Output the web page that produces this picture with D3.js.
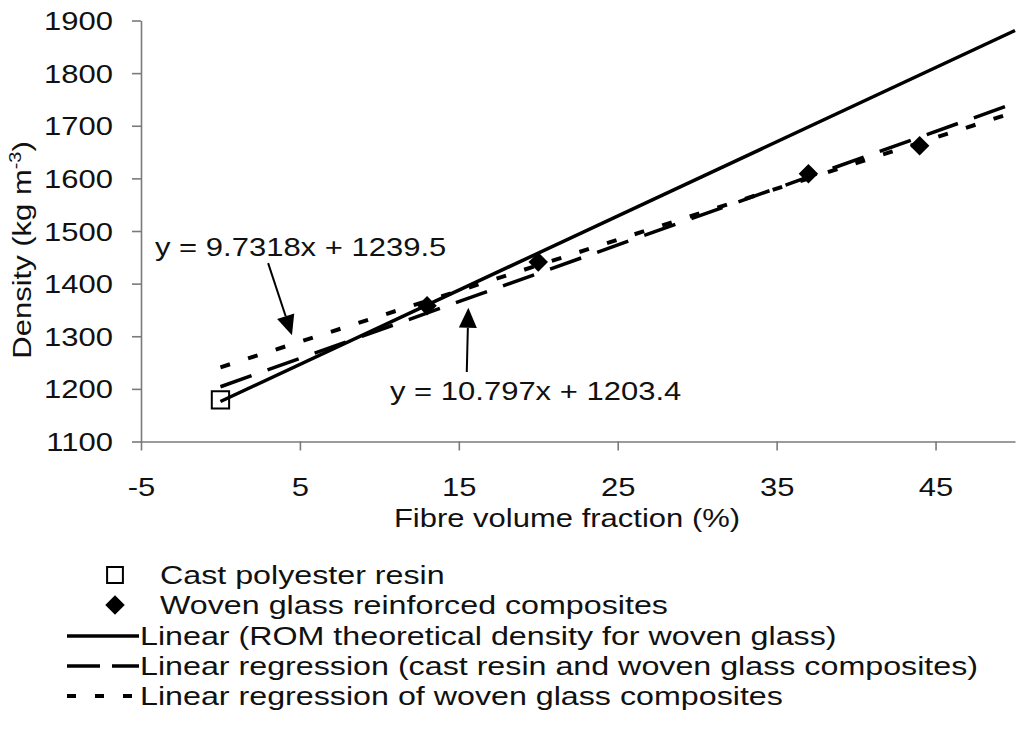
<!DOCTYPE html>
<html>
<head>
<meta charset="utf-8">
<script src="https://cdn.jsdelivr.net/npm/d3@7"></script>
<style>
  body { margin: 0; background: #fff; }
  svg text { font-family: "Liberation Sans", Arial, sans-serif; fill: #111; }
</style>
</head>
<body>
<svg id="chart" width="1017" height="742"></svg>
<script>
// ---- data ----
const xTicks = [ -5, 5, 15, 25, 35, 45 ];
const yTicks = [ 1100, 1200, 1300, 1400, 1500, 1600, 1700, 1800, 1900 ];

const resinX = [ 0 ];
const resinY = [ 1179 ];
const wovenX = [ 13, 20, 37, 44 ];
const wovenY = [ 1358, 1441, 1609, 1662 ];

// trend lines, end points
const romX = [ 0, 50 ];
const romY = [ 1176, 1881 ];
const regAllX = [ 0, 50 ];
const regAllY = [ 1204, 1743 ];
const regWovenX = [ 0, 50 ];
const regWovenY = [ 1241, 1726 ];

const eqLabels = [ "y = 9.7318x + 1239.5", "y = 10.797x + 1203.4" ];

const legendNames = [
  "Cast polyester resin",
  "Woven glass reinforced composites",
  "Linear (ROM theoretical density for woven glass)",
  "Linear regression (cast resin and woven glass composites)",
  "Linear regression of woven glass composites"
];

// ================================
const SX = 1.24; // text in the picture is a bit wide
const FS = 25;
const svg = d3.select( "#chart" );

const x = d3.scaleLinear().domain( [ -5, 50 ] ).range( [ 141, 1015 ] );
const y = d3.scaleLinear().domain( [ 1100, 1900 ] ).range( [ 441.5, 20.5 ] );

function putText( g, str, px, py, anchor, fs ) {
  return g.append( "text" )
    .attr( "transform", `translate(${px},${py}) scale(${SX},1)` )
    .attr( "text-anchor", anchor || "start" )
    .style( "font-size", ( fs || FS ) + "px" )
    .text( str );
}

const plain = d => String( d ); // keeps "-5" and no thousands comma

// axes
const yAxis = svg.append( "g" )
  .attr( "transform", `translate(${x( -5 )},0)` )
  .call( d3.axisLeft( y ).tickValues( yTicks ).tickFormat( plain ).tickSize( 9 ).tickSizeOuter( 0 ) );
yAxis.selectAll( "text" )
  .attr( "transform", `scale(${SX},1)` )
  .attr( "x", -28 / SX )
  .attr( "dy", "0.36em" )
  .style( "font-size", FS + "px" )
  .style( "font-family", "Liberation Sans, Arial, sans-serif" );

const xAxis = svg.append( "g" )
  .attr( "transform", `translate(0,${y( 1100 )})` )
  .call( d3.axisBottom( x ).tickValues( xTicks ).tickFormat( plain ).tickSize( 9 ).tickSizeOuter( 0 ) );
xAxis.selectAll( "text" )
  .attr( "transform", `scale(${SX},1)` )
  .attr( "y", 55 )
  .attr( "dy", 0 )
  .style( "font-size", FS + "px" )
  .style( "font-family", "Liberation Sans, Arial, sans-serif" );

[ yAxis, xAxis ].forEach( a => {
  a.selectAll( "path, line" ).attr( "stroke", "#7a7a7a" ).attr( "stroke-width", 1.6 );
  a.selectAll( "text" ).attr( "fill", "#111" );
} );

// axis titles
putText( svg, "Fibre volume fraction (%)", 567, 527, "middle" );

const yt = svg.append( "text" )
  .attr( "transform", `translate(31,250) rotate(-90) scale(${SX},1)` )
  .attr( "text-anchor", "middle" )
  .style( "font-size", FS + "px" );
yt.append( "tspan" ).text( "Density (kg m" );
yt.append( "tspan" ).attr( "dy", -10 ).style( "font-size", "16px" ).text( "-3" );
yt.append( "tspan" ).attr( "dy", 10 ).text( ")" );

// trend lines
const line = d3.line().x( d => x( d[ 0 ] ) ).y( d => y( d[ 1 ] ) );
const trends = [
  { xs: regWovenX, ys: regWovenY, dash: "10,19", w: 4 },
  { xs: regAllX, ys: regAllY, dash: "33,17", w: 3.5 },
  { xs: romX, ys: romY, dash: null, w: 3.5 }
];
trends.forEach( t => {
  svg.append( "path" )
    .datum( d3.zip( t.xs, t.ys ) )
    .attr( "d", line )
    .attr( "fill", "none" )
    .attr( "stroke", "#000" )
    .attr( "stroke-width", t.w )
    .attr( "stroke-dasharray", t.dash );
} );

// markers
const squareSym = d3.symbol().type( d3.symbolSquare ).size( 300 );
const diamondSym = d3.symbol().type( d3.symbolSquare ).size( 190 );

svg.selectAll( ".resin" )
  .data( d3.zip( resinX, resinY ) )
  .enter().append( "path" )
  .attr( "class", "resin" )
  .attr( "d", squareSym )
  .attr( "transform", d => `translate(${x( d[ 0 ] )},${y( d[ 1 ] )})` )
  .attr( "fill", "none" )
  .attr( "stroke", "#000" )
  .attr( "stroke-width", 2 );

svg.selectAll( ".woven" )
  .data( d3.zip( wovenX, wovenY ) )
  .enter().append( "path" )
  .attr( "class", "woven" )
  .attr( "d", diamondSym )
  .attr( "transform", d => `translate(${x( d[ 0 ] )},${y( d[ 1 ] )}) rotate(45)` )
  .attr( "fill", "#000" );

// equation labels with arrows  (from / to in data units)
const arrows = [
  { from: [ 3.0, 1439 ], to: [ 4.5, 1302 ] },
  { from: [ 15.5, 1232 ], to: [ 15.6, 1354 ] }
];
arrows.forEach( a => {
  const x0 = x( a.from[ 0 ] ), y0 = y( a.from[ 1 ] );
  const x1 = x( a.to[ 0 ] ), y1 = y( a.to[ 1 ] );
  const len = Math.hypot( x1 - x0, y1 - y0 );
  const ux = ( x1 - x0 ) / len, uy = ( y1 - y0 ) / len;
  const bx = x1 - ux * 20, by = y1 - uy * 20;
  svg.append( "line" )
    .attr( "x1", x0 ).attr( "y1", y0 ).attr( "x2", bx ).attr( "y2", by )
    .attr( "stroke", "#000" ).attr( "stroke-width", 2 );
  svg.append( "polygon" )
    .attr( "points", [
      [ x1, y1 ],
      [ bx - uy * 9, by + ux * 9 ],
      [ bx + uy * 9, by - ux * 9 ]
    ].map( p => p.join( "," ) ).join( " " ) )
    .attr( "fill", "#000" );
} );
putText( svg, eqLabels[ 0 ], 155, 256 );
putText( svg, eqLabels[ 1 ], 390, 400 );

// legend
const leg = svg.append( "g" );
const rowY = [ 575, 605, 636, 666, 696 ];
leg.append( "path" ).attr( "d", d3.symbol().type( d3.symbolSquare ).size( 250 ) )
  .attr( "transform", `translate(115,${rowY[ 0 ]})` )
  .attr( "fill", "none" ).attr( "stroke", "#000" ).attr( "stroke-width", 2 );
leg.append( "path" ).attr( "d", diamondSym )
  .attr( "transform", `translate(115,${rowY[ 1 ]}) rotate(45)` )
  .attr( "fill", "#000" );
[ null, "33,12", "9,19" ].forEach( ( dash, i ) => {
  leg.append( "line" )
    .attr( "x1", 67 ).attr( "x2", 139 )
    .attr( "y1", rowY[ i + 2 ] ).attr( "y2", rowY[ i + 2 ] )
    .attr( "stroke", "#000" ).attr( "stroke-width", i === 2 ? 4 : 3.5 )
    .attr( "stroke-dasharray", dash );
} );
legendNames.forEach( ( n, i ) => {
  putText( leg, n, i < 2 ? 160 : 140, rowY[ i ] + 9, "start", 26 );
} );
</script>
</body>
</html>
